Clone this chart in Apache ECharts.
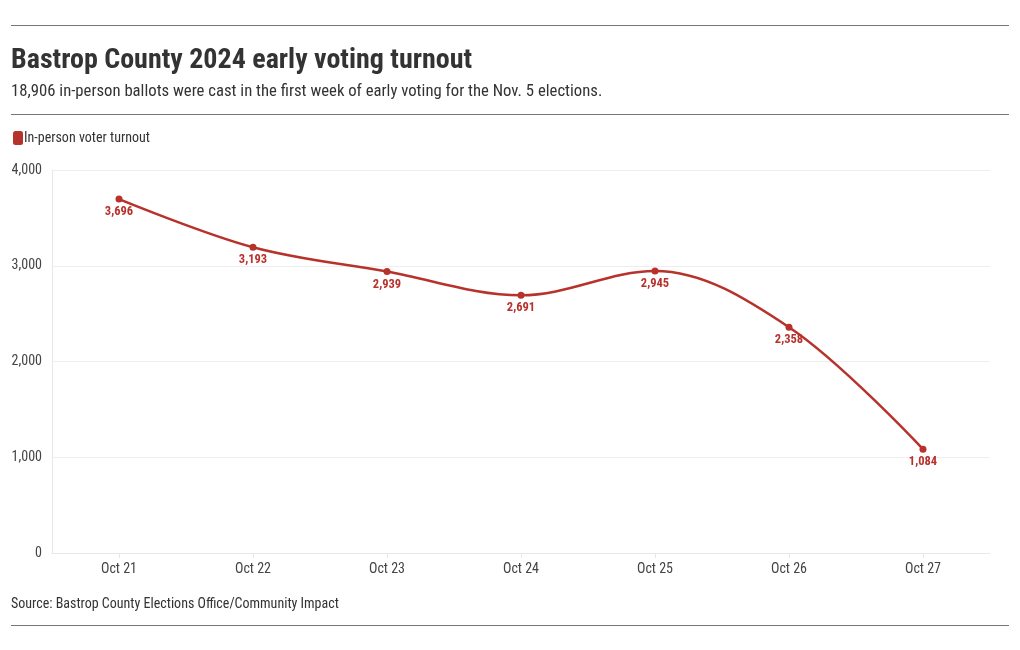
<!DOCTYPE html>
<html><head><meta charset="utf-8">
<script src="https://cdn.jsdelivr.net/npm/echarts@6/dist/echarts.min.js"></script>
<style>
html,body{margin:0;padding:0;background:#fff;}
#c{width:1020px;height:650px;}
</style></head>
<body><div id="c"></div>
<script>
const categories = ['Oct 21','Oct 22','Oct 23','Oct 24','Oct 25','Oct 26','Oct 27'];
const turnout = [3696, 3193, 2939, 2691, 2945, 2358, 1084];
const yTicks = [0, 1000, 2000, 3000, 4000];
const FONT = '"Roboto Condensed","Liberation Sans Narrow","DejaVu Sans Condensed",Roboto,sans-serif';
const RED = '#b8322c';
const fmt = v => Number(v).toLocaleString('en-US');
const chart = echarts.init(document.getElementById('c'));
chart.setOption({
  backgroundColor:'#fff',
  animation:false,
  textStyle:{fontFamily:FONT},
  graphic:[
    {type:'line',shape:{x1:11,y1:25.5,x2:1009,y2:25.5},style:{stroke:'#777',lineWidth:1}},
    {type:'text',left:11,top:47,style:{text:'Bastrop County 2024 early voting turnout',font:'bold 28px '+FONT,fill:'#333'}},
    {type:'text',left:11,top:83,style:{text:'18,906 in-person ballots were cast in the first week of early voting for the Nov. 5 elections.',font:'16.7px '+FONT,fill:'#333'}},
    {type:'line',shape:{x1:11,y1:114.5,x2:1009,y2:114.5},style:{stroke:'#777',lineWidth:1}},
    {type:'text',left:11,top:597,style:{text:'Source: Bastrop County Elections Office/Community Impact',font:'14px '+FONT,fill:'#333'}},
    {type:'line',shape:{x1:11,y1:625.5,x2:1009,y2:625.5},style:{stroke:'#777',lineWidth:1}}
  ],
  legend:{
    left:8, top:126, itemWidth:10, itemHeight:14, itemGap:10,
    icon:'roundRect',
    textStyle:{fontFamily:FONT,fontSize:14,color:'#333',padding:[0,0,0,-4]},
    data:[{name:'In-person voter turnout'}]
  },
  grid:{left:52,right:30,top:170,bottom:97,containLabel:false},
  xAxis:{
    type:'category', data:categories, boundaryGap:true,
    axisLine:{show:true,lineStyle:{color:'#e8e8e8'}},
    axisTick:{show:true,alignWithLabel:true,length:5,lineStyle:{color:'#e8e8e8'}},
    axisLabel:{fontFamily:FONT,fontSize:14,color:'#444',margin:9}
  },
  yAxis:{
    type:'value', min:yTicks[0], max:yTicks[yTicks.length-1], interval:1000,
    axisLine:{show:true,lineStyle:{color:'#e8e8e8'}},
    axisTick:{show:false},
    splitLine:{lineStyle:{color:'#eeeeee'}},
    axisLabel:{fontFamily:FONT,fontSize:14,color:'#444',margin:10,formatter:v=>fmt(v)}
  },
  series:[{
    name:'In-person voter turnout', type:'line', data:turnout, smooth:0.35,
    symbol:'circle', symbolSize:7,
    itemStyle:{color:RED},
    lineStyle:{color:RED,width:2.5},
    label:{show:true,position:'bottom',distance:3,fontFamily:FONT,fontWeight:'bold',fontSize:12.5,color:RED,formatter:p=>fmt(p.value)}
  }]
});
</script></body></html>
